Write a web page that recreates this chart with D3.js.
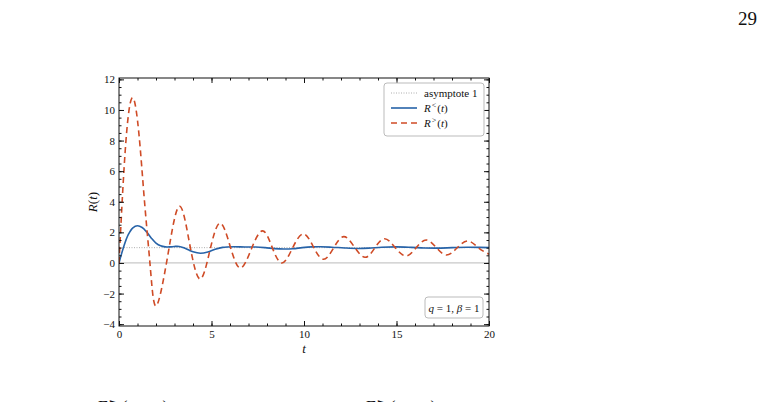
<!doctype html>
<html lang="en">
<head>
  <meta charset="utf-8">
  <title>R(t)</title>
  <style>
    body { margin: 0; background: #fff; }
    svg { display: block; }
    text { font-family: "Liberation Serif", "DejaVu Serif", serif; fill: #111; }
    .axis path { display: none; }
    .axis line { stroke: #111; stroke-width: 1; }
    .axis text { font-size: 11px; }
  </style>
</head>
<body>
  <div id="chart"></div>
  <script src="https://cdn.jsdelivr.net/npm/d3@7"></script>
  <script>
var asymptote = 1;

var tLess = [0, 0.25, 0.5, 0.75, 1.0, 1.25, 1.5, 1.75, 2.0, 2.25, 2.5, 2.75, 3.0, 3.25, 3.5, 3.75, 4.0, 4.4, 4.8, 5.2, 5.6, 6.2, 6.8, 7.4, 7.9, 8.4, 8.9, 9.4, 9.9, 10.4, 10.9, 11.5, 12.2, 12.9, 13.5, 14.2, 15.0, 15.8, 16.5, 17.2, 18.0, 18.8, 19.5, 20];
var rLess = [0, 1.05, 1.85, 2.3, 2.43, 2.32, 2.02, 1.62, 1.3, 1.12, 1.05, 1.05, 1.08, 1.08, 1.0, 0.86, 0.73, 0.64, 0.72, 0.9, 1.02, 1.06, 1.04, 1.04, 1.0, 0.94, 0.91, 0.93, 1.0, 1.05, 1.06, 1.03, 0.98, 0.95, 0.97, 1.03, 1.05, 1.02, 0.98, 0.97, 1.0, 1.03, 1.02, 1.0];

var tMore = [0, 0.37, 0.74, 1.08, 1.38, 1.7, 2.02, 2.63, 3.25, 3.81, 4.37, 4.91, 5.45, 6.0, 6.55, 7.15, 7.75, 8.27, 8.8, 9.37, 9.95, 10.5, 11.05, 11.6, 12.15, 12.72, 13.3, 13.82, 14.35, 14.92, 15.5, 16.05, 16.6, 17.15, 17.7, 18.27, 18.85, 19.42, 20];
var rMore = [0, 7.9, 10.8, 8.4, 4.0, -0.4, -2.8, 0.45, 3.7, 1.3, -1.05, 0.8, 2.6, 1.13, -0.33, 0.9, 2.1, 1.05, 0.0, 0.95, 1.9, 1.07, 0.24, 0.98, 1.72, 1.05, 0.37, 0.97, 1.58, 1.02, 0.46, 0.98, 1.5, 1.01, 0.52, 0.98, 1.44, 1.0, 0.57];

var xTicks = [0, 5, 10, 15, 20];
var yTicks = [-4, -2, 0, 2, 4, 6, 8, 10, 12];
var legendLabels = ["asymptote 1", "R", "R"];

(function() {
  var width = 764, height = 402;
  var left = 119, right = 489, top = 78, bottom = 326;
  var blue = "#2763a8", orange = "#cf4b26";

  var svg = d3.select("#chart").append("svg")
      .attr("width", width)
      .attr("height", height);

  var x = d3.scaleLinear().domain([0, 20]).range([left, right]);
  var y = d3.scaleLinear().domain([-4.12, 12.09]).range([bottom, top]);

  var fmt = function(d) { return d < 0 ? "\u2212" + Math.abs(d) : d; };
  var xMinor = d3.range(0, 20.01, 1);
  var yMinor = d3.range(-4, 12.01, 0.5);

  var plot = svg.append("g");
  plot.append("clipPath").attr("id", "clip")
    .append("rect").attr("x", left).attr("y", top)
    .attr("width", right - left).attr("height", bottom - top);

  var inner = plot.append("g").attr("clip-path", "url(#clip)");

  // zero line and asymptote
  inner.append("line")
    .attr("x1", left).attr("x2", right)
    .attr("y1", y(0)).attr("y2", y(0))
    .attr("stroke", "#c8c8c8").attr("stroke-width", 1.2);
  inner.append("line")
    .attr("x1", left).attr("x2", right)
    .attr("y1", y(asymptote)).attr("y2", y(asymptote))
    .attr("stroke", "#999").attr("stroke-width", 0.8)
    .attr("stroke-dasharray", "1,1.5");

  var lineLess = d3.line()
    .x(function(d, i) { return x(tLess[i]); })
    .y(function(d) { return y(d); })
    .curve(d3.curveCatmullRom.alpha(0.5));
  var lineMore = d3.line()
    .x(function(d, i) { return x(tMore[i]); })
    .y(function(d) { return y(d); })
    .curve(d3.curveNatural);

  inner.append("path").datum(rLess)
    .attr("d", lineLess)
    .attr("fill", "none").attr("stroke", blue).attr("stroke-width", 1.6);
  inner.append("path").datum(rMore)
    .attr("d", lineMore)
    .attr("fill", "none").attr("stroke", orange).attr("stroke-width", 1.6)
    .attr("stroke-dasharray", "6,4");

  // axes, ticks inward on all sides
  function addAxis(axis, tx, ty) {
    plot.append("g").attr("class", "axis")
      .attr("transform", "translate(" + tx + "," + ty + ")")
      .call(axis);
  }
  addAxis(d3.axisBottom(x).tickValues(xTicks).tickSize(-5).tickPadding(4).tickFormat(fmt), 0, bottom);
  addAxis(d3.axisBottom(x).tickValues(xMinor).tickSize(-2.5).tickFormat(""), 0, bottom);
  addAxis(d3.axisTop(x).tickValues(xTicks).tickSize(-5).tickFormat(""), 0, top);
  addAxis(d3.axisTop(x).tickValues(xMinor).tickSize(-2.5).tickFormat(""), 0, top);
  addAxis(d3.axisLeft(y).tickValues(yTicks).tickSize(-5).tickPadding(4).tickFormat(fmt), left, 0);
  addAxis(d3.axisLeft(y).tickValues(yMinor).tickSize(-2.5).tickFormat(""), left, 0);
  addAxis(d3.axisRight(y).tickValues(yTicks).tickSize(-5).tickFormat(""), right, 0);
  addAxis(d3.axisRight(y).tickValues(yMinor).tickSize(-2.5).tickFormat(""), right, 0);

  plot.append("rect")
    .attr("x", left).attr("y", top)
    .attr("width", right - left).attr("height", bottom - top)
    .attr("fill", "none").attr("stroke", "#111").attr("stroke-width", 1);

  // axis labels
  svg.append("text")
    .attr("x", (left + right) / 2).attr("y", 353)
    .attr("text-anchor", "middle").attr("font-size", 13)
    .attr("font-style", "italic").text("t");
  var yl = svg.append("text")
    .attr("transform", "translate(97," + ((top + bottom) / 2) + ") rotate(-90)")
    .attr("text-anchor", "middle").attr("font-size", 13);
  yl.append("tspan").attr("font-style", "italic").text("R");
  yl.append("tspan").text("(");
  yl.append("tspan").attr("font-style", "italic").text("t");
  yl.append("tspan").text(")");

  // legend
  var lg = svg.append("g").attr("transform", "translate(384,83)");
  lg.append("rect")
    .attr("width", 100).attr("height", 53).attr("rx", 3)
    .attr("fill", "#fff").attr("stroke", "#bbb").attr("stroke-width", 1);
  var rows = [
    { stroke: "#999", dash: "1,1.5", w: 0.8 },
    { stroke: blue, dash: null, w: 1.6 },
    { stroke: orange, dash: "6,4", w: 1.6 }
  ];
  rows.forEach(function(r, i) {
    var yy = 10 + i * 15;
    lg.append("line")
      .attr("x1", 7).attr("x2", 33).attr("y1", yy).attr("y2", yy)
      .attr("stroke", r.stroke).attr("stroke-width", r.w)
      .attr("stroke-dasharray", r.dash);
    var tx = lg.append("text").attr("x", 40).attr("y", yy + 3.5).attr("font-size", 11);
    if (i === 0) {
      tx.text(legendLabels[0]);
    } else {
      tx.append("tspan").attr("font-style", "italic").text(legendLabels[i]);
      tx.append("tspan").attr("font-size", 8).attr("dy", -4).attr("dx", 1).text(i === 1 ? "<" : ">");
      tx.append("tspan").attr("dy", 4).attr("dx", 1).text("(");
      tx.append("tspan").attr("font-style", "italic").text("t");
      tx.append("tspan").text(")");
    }
  });

  // parameter box
  var pb = svg.append("g").attr("transform", "translate(425,297)");
  pb.append("rect")
    .attr("width", 58).attr("height", 21).attr("rx", 3)
    .attr("fill", "#fff").attr("stroke", "#bbb").attr("stroke-width", 1);
  var pt = pb.append("text").attr("x", 29).attr("y", 14.5)
    .attr("text-anchor", "middle").attr("font-size", 11);
  pt.append("tspan").attr("font-style", "italic").text("q");
  pt.append("tspan").text(" = 1, ");
  pt.append("tspan").attr("font-style", "italic").text("\u03b2");
  pt.append("tspan").text(" = 1");

  // page number
  svg.append("text")
    .attr("x", 757).attr("y", 25)
    .attr("text-anchor", "end").attr("font-size", 19).text("29");

  // cut-off text at the bottom of the page
  [[98, 412], [366, 412]].forEach(function(p) {
    svg.append("text")
      .attr("x", p[0]).attr("y", p[1])
      .attr("font-size", 17).text("\u0393\u2277(x\u20d7, t)");
  });
})();
  </script>
</body>
</html>
